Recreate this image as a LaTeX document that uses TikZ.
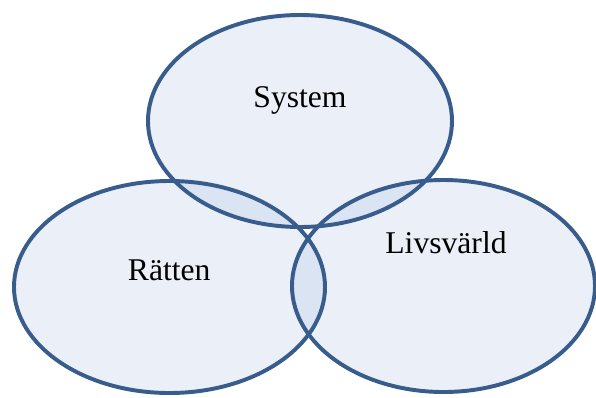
\documentclass[tikz,border=0pt]{standalone}
\usepackage{fontspec}
\setmainfont{Liberation Serif}
\usepackage{tikz}
\usetikzlibrary{calc}
\definecolor{vennline}{RGB}{56,93,140}
\definecolor{vennfill}{RGB}{160,185,222}
\tikzstyle{vennarea}=[fill=vennfill,fill opacity=0.21]
\tikzstyle{vennedge}=[draw=vennline,line width=2.8pt]
\tikzstyle{venntext}=[inner sep=0pt,font=\fontsize{22.5}{27}\selectfont]

\begin{document}
\begin{tikzpicture}
\def \ry {2.65};

\useasboundingbox (0,0) rectangle (14.9,-9.925);

\coordinate (csys) at (7.5,-3.025);
\coordinate (cratt) at (4.2375,-7.175);
\coordinate (cliv) at (11.0875,-7.15);

% fills first, outlines on top
\foreach \c/\rx in {csys/3.8, cratt/3.8875, cliv/3.7875} {
	\fill[vennarea] (\c) ellipse [x radius=\rx, y radius=\ry];
};
\foreach \c/\rx in {csys/3.8, cratt/3.8875, cliv/3.7875} {
	\draw[vennedge] (\c) ellipse [x radius=\rx, y radius=\ry];
};

\node[venntext] (sys) at (7.5,-2.5) {System};
\node[venntext] (ratt) at (4.23,-6.75) {Rätten};
\node[venntext] (liv) at (11.15,-6.07) {Livsvärld};

\end{tikzpicture}
\end{document}
